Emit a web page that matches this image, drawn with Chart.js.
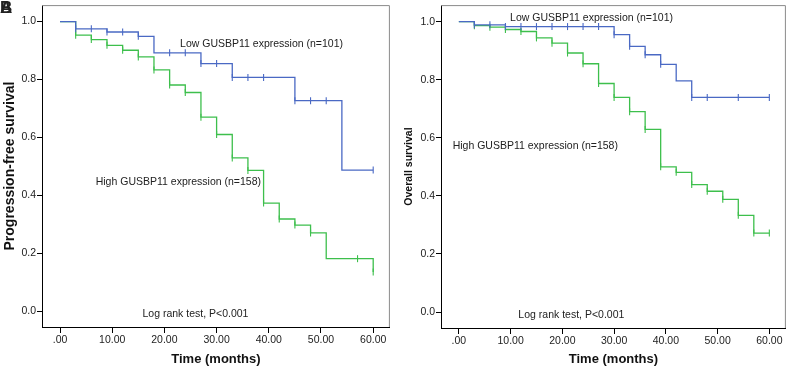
<!DOCTYPE html>
<html>
<head>
<meta charset="utf-8">
<script src="https://cdn.jsdelivr.net/npm/chart.js@4"></script>
<style>
  html, body { margin: 0; padding: 0; background: #fff; }
  #wrap { position: relative; width: 791px; height: 370px; }
  canvas { position: absolute; top: 0; }
  #pfs { left: 0; }
  #os  { left: 396px; }
</style>
</head>
<body>
<div id="wrap">
  <canvas id="pfs" width="395" height="370"></canvas>
  <canvas id="os" width="395" height="370"></canvas>
</div>
<script>
// ---- Data ----
const xTicks = [0, 10, 20, 30, 40, 50, 60];
const yTicks = [0, 0.2, 0.4, 0.6, 0.8, 1.0];

// Panel A: progression-free survival
const pfsLowTimes  = [0, 3, 9, 15, 18, 27, 33, 45, 54, 60];
const pfsLowSurv   = [1, 0.975, 0.964, 0.949, 0.892, 0.855, 0.807, 0.727, 0.487, 0.487];
const pfsLowCens   = [3, 6, 9, 12, 15, 21, 24, 27, 30, 33, 36, 39, 45, 48, 51, 60];
const pfsHighTimes = [0, 3, 6, 9, 12, 15, 18, 21, 24, 27, 30, 33, 36, 39, 42, 45, 48, 51, 60];
const pfsHighSurv  = [1, 0.953, 0.938, 0.918, 0.901, 0.878, 0.833, 0.781, 0.755, 0.670, 0.610, 0.529, 0.486, 0.373, 0.318, 0.297, 0.270, 0.181, 0.135];
const pfsHighCens  = [3, 6, 9, 12, 15, 18, 21, 24, 27, 30, 33, 36, 39, 42, 45, 48, 57, 60];

// Panel B: overall survival
const osLowTimes  = [0, 3, 9, 30, 33, 36, 39, 42, 45, 60];
const osLowSurv   = [1, 0.989, 0.983, 0.955, 0.915, 0.886, 0.853, 0.796, 0.739, 0.739];
const osLowCens   = [3, 6, 9, 12, 15, 18, 21, 24, 27, 30, 33, 36, 39, 45, 48, 54, 60];
const osHighTimes = [0, 3, 6, 9, 12, 15, 18, 21, 24, 27, 30, 33, 36, 39, 42, 45, 48, 51, 54, 57, 60];
const osHighSurv  = [1, 0.986, 0.981, 0.973, 0.966, 0.944, 0.926, 0.892, 0.855, 0.787, 0.739, 0.690, 0.629, 0.500, 0.481, 0.439, 0.416, 0.388, 0.333, 0.272, 0.272];
const osHighCens  = [3, 6, 9, 12, 15, 18, 21, 24, 27, 30, 33, 36, 39, 42, 45, 48, 51, 54, 57, 60];

const lowLabel  = 'Low GUSBP11 expression (n=101)';
const highLabel = 'High GUSBP11 expression (n=158)';
const testLabel = 'Log rank test, P<0.001';

// ---- Helpers ----
const BLUE  = '#4a69c4';
const GREEN = '#3dbf4c';
Chart.defaults.font.family = '"Liberation Sans", Arial, sans-serif';
Chart.defaults.color = '#222';

const toPoints = (ts, ss) => ts.map((t, i) => ({ x: t, y: ss[i] }));

function survAt(ts, ss, t) {
  let v = ss[0];
  for (let i = 0; i < ts.length; i++) if (ts[i] <= t) v = ss[i];
  return v;
}
const censPoints = (cs, ts, ss) => cs.map(t => ({ x: t, y: survAt(ts, ss, t) }));

function curve(ts, ss, color) {
  return { type: 'line', data: toPoints(ts, ss), borderColor: color, borderWidth: 1.3,
           stepped: 'before', pointRadius: 0, fill: false };
}
function ticks(cs, ts, ss, color) {
  return { type: 'scatter', data: censPoints(cs, ts, ss), borderColor: color, backgroundColor: color,
           pointStyle: 'line', rotation: 90, pointRadius: 3.5, borderWidth: 1.1 };
}

// text labels + box + panel letter
const decor = {
  id: 'decor',
  afterDraw(chart) {
    const { ctx, chartArea: a, scales: { x, y } } = chart;
    const o = chart.options.plugins.decor;
    ctx.save();
    ctx.strokeStyle = '#8a8a8a';
    ctx.lineWidth = 1;
    ctx.beginPath();
    ctx.moveTo(a.left, a.top + 0.5); ctx.lineTo(a.right - 0.5, a.top + 0.5); ctx.lineTo(a.right - 0.5, a.bottom);
    ctx.stroke();
    ctx.fillStyle = '#222';
    ctx.font = '10.5px "Liberation Sans", Arial, sans-serif';
    ctx.textBaseline = 'middle';
    o.labels.forEach(l => {
      ctx.textAlign = l.align || 'left';
      ctx.fillText(l.text, x.getPixelForValue(l.x), y.getPixelForValue(l.y));
    });
    if (o.letter) {
      ctx.font = 'bold 17px "Liberation Sans", Arial, sans-serif';
      ctx.textAlign = 'left';
      ctx.textBaseline = 'top';
      o.letter.forEach(ch => ctx.fillText(ch, 0, 0));
    }
    ctx.restore();
  }
};

function makeChart(id, datasets, yTitle, yTitleSize, yWidth, xHeight, rightPad, titlePad, labels, letter) {
  return new Chart(document.getElementById(id), {
    data: { datasets },
    options: {
      responsive: false,
      animation: false,
      layout: { padding: { top: 3, right: rightPad, left: 0, bottom: 0 } },
      plugins: { legend: { display: false }, tooltip: { enabled: false }, decor: { labels, letter } },
      scales: {
        x: {
          type: 'linear', min: -3.45, max: 63.2,
          afterBuildTicks: s => { s.ticks = xTicks.map(v => ({ value: v })); },
          afterFit: s => { s.height = xHeight; s.paddingLeft = 0; s.paddingRight = 0; },
          ticks: { font: { size: 10.5 }, padding: 1, maxRotation: 0,
                   callback: v => v === 0 ? '.00' : v.toFixed(2) },
          grid: { display: true, drawOnChartArea: false, tickLength: 6, color: '#000' },
          border: { color: '#000', width: 1 },
          title: { display: true, text: 'Time (months)', font: { size: 13, weight: 'bold' },
                   color: '#111', padding: { top: 0, bottom: 3 } }
        },
        y: {
          type: 'linear', min: -0.055, max: 1.057,
          afterBuildTicks: s => { s.ticks = yTicks.map(v => ({ value: v })); },
          afterFit: s => { s.width = yWidth; s.paddingTop = 0; s.paddingBottom = 0; },
          ticks: { font: { size: 10.5 }, padding: 1, callback: v => v.toFixed(1) },
          grid: { display: true, drawOnChartArea: false, tickLength: 5, color: '#000' },
          border: { color: '#000', width: 1 },
          title: { display: true, text: yTitle, font: { size: yTitleSize, weight: 'bold' },
                   color: '#111', padding: { top: titlePad, bottom: 0 } }
        }
      }
    },
    plugins: [decor]
  });
}

makeChart('pfs', [
  curve(pfsLowTimes, pfsLowSurv, BLUE),
  ticks(pfsLowCens, pfsLowTimes, pfsLowSurv, BLUE),
  curve(pfsHighTimes, pfsHighSurv, GREEN),
  ticks(pfsHighCens, pfsHighTimes, pfsHighSurv, GREEN)
], 'Progression-free survival', 14, 42, 43, 5, 1.6, [
  { text: lowLabel,  x: 23,   y: 0.923 },
  { text: highLabel, x: 38.5, y: 0.447, align: 'right' },
  { text: testLabel, x: 15.8, y: -0.011 }
], ['A', 'B']);

makeChart('os', [
  curve(osLowTimes, osLowSurv, BLUE),
  ticks(osLowCens, osLowTimes, osLowSurv, BLUE),
  curve(osHighTimes, osHighSurv, GREEN),
  ticks(osHighCens, osHighTimes, osHighSurv, GREEN)
], 'Overall survival', 10.5, 45, 42, 3, 6.7, [
  { text: lowLabel,  x: 9.9,  y: 1.011 },
  { text: highLabel, x: -1.2, y: 0.573 },
  { text: testLabel, x: 11.5, y: -0.011 }
], null);
</script>
</body>
</html>
